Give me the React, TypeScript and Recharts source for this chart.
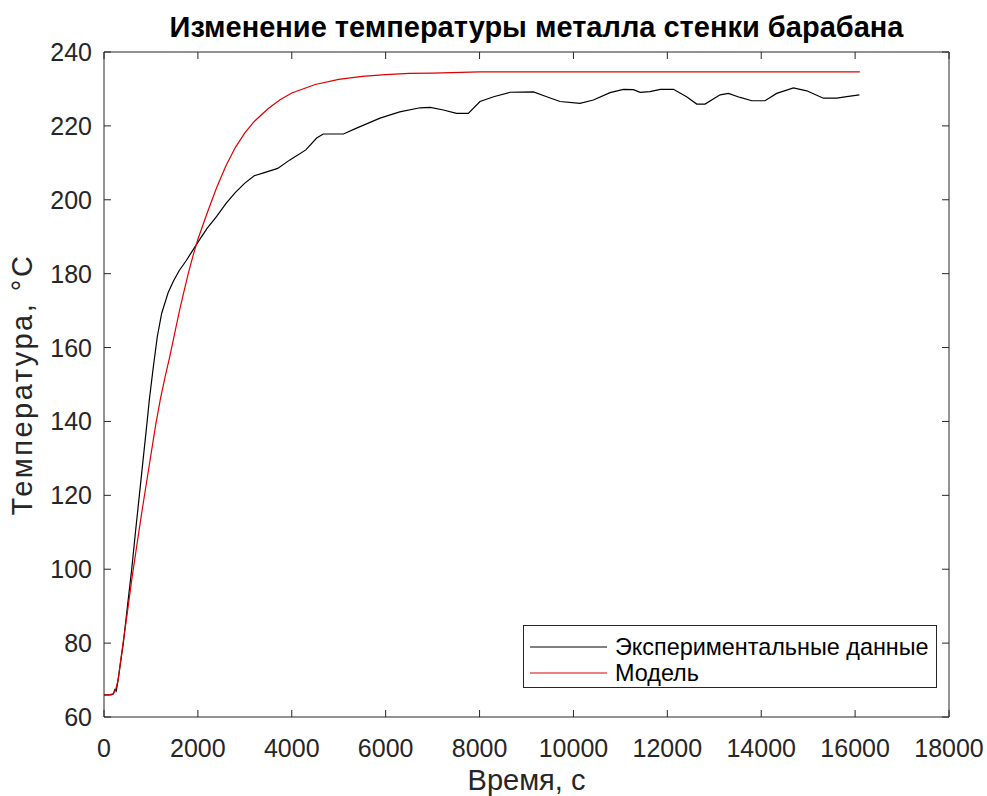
import { Legend, Line, LineChart, XAxis, YAxis } from "recharts";

// experimental drum wall metal temperature, time in s
const expTime = [
  0, 150, 200, 230, 260, 300, 350, 412, 500, 590, 670, 753, 836, 919, 965,
  1051, 1136, 1229, 1370, 1480, 1600, 1750, 1900, 2050, 2200, 2400, 2600, 2800,
  3000, 3200, 3400, 3700, 3960, 4300, 4530, 4670, 5100, 5380, 5880, 6300,
  6733, 6950, 7230, 7510, 7760, 8010, 8300, 8650, 9150, 9430, 9715, 10140,
  10425, 10780, 11064, 11277, 11420, 11630, 11850, 12130, 12410, 12626,
  12804, 13124, 13300, 13550, 13800, 14080, 14330, 14686, 14970, 15325,
  15609, 15822, 16091,
];
const expTemp = [
  66, 66, 66.3, 67.4, 67, 70, 74.5, 80, 90, 100, 110, 120, 130, 140, 145.8,
  154.8, 163, 169.3, 175, 178, 180.8, 183.5, 186.5, 189.5, 192.3, 195.5, 199,
  202, 204.5, 206.5, 207.3, 208.5, 210.8, 213.5, 216.7, 217.8, 217.8, 219.4,
  222.1, 223.8, 224.9, 225, 224.3, 223.4, 223.4, 226.6, 227.9, 229.1, 229.2,
  227.9, 226.6, 226.1, 227, 229, 229.9, 229.8, 229.1, 229.3, 229.9, 229.9,
  227.9, 225.9, 225.9, 228.4, 228.8, 227.7, 226.8, 226.8, 228.8, 230.3, 229.5,
  227.5, 227.5, 227.9, 228.4,
];

// model response
const modelTime = [
  0, 100, 200, 250, 300, 400, 500, 600, 700, 800, 900, 1000, 1100, 1200, 1300,
  1400, 1500, 1600, 1700, 1800, 1900, 2000, 2200, 2400, 2600, 2800, 3000, 3200,
  3500, 3750, 4000, 4500, 5000, 5500, 6000, 6500, 7000, 8000, 10000, 12000,
  14000, 16100,
];
const modelTemp = [
  66, 66, 66.3, 67.5, 70, 79.5, 88.5, 98, 106.5, 115, 123, 131, 139, 146, 152,
  157.5, 163.5, 169.5, 175, 180.3, 185, 189.3, 196.5, 203.3, 209.3, 214.2,
  218.1, 221.2, 224.7, 227.1, 228.9, 231.2, 232.6, 233.4, 233.9, 234.2, 234.3,
  234.6, 234.6, 234.6, 234.6, 234.6,
];

const xTicks = [0, 2000, 4000, 6000, 8000, 10000, 12000, 14000, 16000, 18000];
const yTicks = [60, 80, 100, 120, 140, 160, 180, 200, 220, 240];

const expData = expTime.map((t, i) => ({ t, v: expTemp[i] }));
const modelData = modelTime.map((t, i) => ({ t, v: modelTemp[i] }));

const AXIS = "#262626";
const FONT = "'Liberation Sans', Arial, sans-serif";
const TICK_LEN = 7;

const BottomTick = ({ x, y, payload }: any) => (
  <g>
    <line x1={x} x2={x} y1={y} y2={y - TICK_LEN} stroke={AXIS} />
    <text x={x} y={y + 40} textAnchor="middle" fill={AXIS} fontSize={25} fontFamily={FONT}>
      {payload.value}
    </text>
  </g>
);
const TopTick = ({ x, y }: any) => (
  <line x1={x} x2={x} y1={y} y2={y + TICK_LEN} stroke={AXIS} />
);
const LeftTick = ({ x, y, payload }: any) => (
  <g>
    <line x1={x} x2={x + TICK_LEN} y1={y} y2={y} stroke={AXIS} />
    <text x={x - 12} y={y} dy="0.36em" textAnchor="end" fill={AXIS} fontSize={25} fontFamily={FONT}>
      {payload.value}
    </text>
  </g>
);
const RightTick = ({ x, y }: any) => (
  <line x1={x} x2={x - TICK_LEN} y1={y} y2={y} stroke={AXIS} />
);

const legendItems = [
  { name: "Экспериментальные данные", color: "#000000" },
  { name: "Модель", color: "#dd0000" },
];

const LegendBox = () => (
  <svg width={414} height={63} style={{ display: "block" }}>
    <rect x={0.5} y={0.5} width={413} height={62} fill="#fff" stroke={AXIS} />
    {legendItems.map((it, i) => (
      <g key={it.name}>
        <line x1={7} x2={84} y1={22 + i * 26} y2={22 + i * 26} stroke={it.color} />
        <text x={92} y={22 + i * 26} dy="0.36em" fontSize={23.4} fontFamily={FONT} fill="#000">
          {it.name}
        </text>
      </g>
    ))}
  </svg>
);

export default function App() {
  return (
    <div style={{ position: "absolute", left: 0, top: 0, width: 987, height: 796, background: "#fff" }}>
      <div
        style={{
          position: "absolute",
          left: 114,
          width: 845,
          top: 11,
          textAlign: "center",
          fontFamily: FONT,
          fontWeight: "bold",
          fontSize: 29,
          color: "#000",
          lineHeight: "32px",
        }}
      >
        Изменение температуры металла стенки барабана
      </div>
      <LineChart width={987} height={796} margin={{ top: 51, right: 37, left: 0, bottom: 0 }}>
        <XAxis
          dataKey="t"
          type="number"
          domain={[0, 18000]}
          ticks={xTicks}
          interval={0}
          height={79}
          tickSize={0}
          tickMargin={0}
          tickLine={false}
          axisLine={{ stroke: AXIS }}
          tick={<BottomTick />}
          allowDataOverflow
          label={{
            value: "Время, с",
            position: "insideBottom",
            offset: 6,
            fontSize: 29,
            fontFamily: FONT,
            fill: AXIS,
          }}
        />
        <XAxis
          xAxisId="top"
          orientation="top"
          dataKey="t"
          type="number"
          domain={[0, 18000]}
          ticks={xTicks}
          interval={0}
          height={1}
          tickSize={0}
          tickMargin={0}
          tickLine={false}
          axisLine={false}
          tick={<TopTick />}
        />
        <YAxis
          type="number"
          domain={[60, 240]}
          ticks={yTicks}
          interval={0}
          width={104}
          tickSize={0}
          tickMargin={0}
          tickLine={false}
          axisLine={{ stroke: AXIS }}
          tick={<LeftTick />}
          allowDataOverflow
          label={{
            value: "Температура, °C",
            angle: -90,
            position: "insideLeft",
            offset: 22,
            fontSize: 29,
            fontFamily: FONT,
            fill: AXIS,
            style: { textAnchor: "middle", letterSpacing: "2.5px" },
          }}
        />
        <YAxis
          yAxisId="right"
          orientation="right"
          type="number"
          domain={[60, 240]}
          ticks={yTicks}
          interval={0}
          width={1}
          tickSize={0}
          tickMargin={0}
          tickLine={false}
          axisLine={false}
          tick={<RightTick />}
        />
        <Legend
          layout="horizontal"
          verticalAlign="middle"
          align="center"
          content={() => <LegendBox />}
          wrapperStyle={{ left: 523, top: 625, width: 414, height: 63 }}
        />
        <Line
          data={expData}
          dataKey="v"
          name="Экспериментальные данные"
          type="linear"
          stroke="#000000"
          strokeWidth={1.2}
          dot={false}
          isAnimationActive={false}
        />
        <Line
          data={modelData}
          dataKey="v"
          name="Модель"
          type="linear"
          stroke="#dd0000"
          strokeWidth={1.2}
          dot={false}
          isAnimationActive={false}
        />
        {/* border lines on top and right, carried by the mirror axes */}
        <Line
          xAxisId="top"
          yAxisId="right"
          data={[
            { t: 0, v: 240 },
            { t: 18000, v: 240 },
            { t: 18000, v: 60 },
          ]}
          dataKey="v"
          stroke={AXIS}
          strokeWidth={1}
          dot={false}
          legendType="none"
          isAnimationActive={false}
        />
      </LineChart>
    </div>
  );
}
